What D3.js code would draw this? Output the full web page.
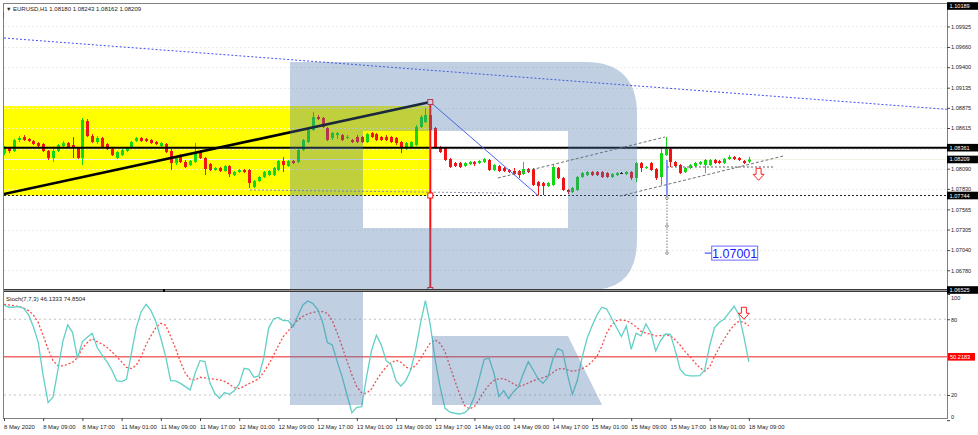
<!DOCTYPE html>
<html><head><meta charset="utf-8">
<script src="https://cdn.jsdelivr.net/npm/d3@7"></script>
<style>
html,body{margin:0;padding:0;background:#fff;}
svg{display:block;font-family:"Liberation Sans",Arial,sans-serif;}
</style></head><body>
<svg id="c" width="978" height="435"></svg>
<script>
// ---------------- DATA ----------------
const symbolTitle = "EURUSD,H1  1.08180 1.08243 1.08162 1.08209";
const stochTitle = "Stoch(7,7,3) 46.1333 74.8504";

const openP = [1.08292,1.08357,1.08318,1.08460,1.08499,1.08473,1.08447,1.08421,1.08408,1.08318,1.08228,1.08318,1.08382,1.08421,1.08395,1.08357,1.08228,1.08705,1.08511,1.08434,1.08486,1.08408,1.08344,1.08228,1.08266,1.08318,1.08357,1.08447,1.08486,1.08473,1.08460,1.08434,1.08382,1.08408,1.08318,1.08163,1.08266,1.08176,1.08137,1.08176,1.08305,1.08228,1.08150,1.08073,1.08099,1.08060,1.08124,1.08008,1.08047,1.08073,1.08073,1.07854,1.07931,1.07983,1.08008,1.08008,1.08073,1.08189,1.08124,1.08189,1.08176,1.08331,1.08434,1.08589,1.08757,1.08744,1.08615,1.08486,1.08524,1.08524,1.08486,1.08460,1.08499,1.08499,1.08434,1.08550,1.08537,1.08499,1.08499,1.08499,1.08486,1.08434,1.08357,1.08370,1.08395,1.08628,1.08692,1.08782,1.08615,1.08370,1.08357,1.08215,1.08163,1.08163,1.08124,1.08150,1.08176,1.08163,1.08176,1.08202,1.08073,1.08124,1.08099,1.08073,1.08060,1.08060,1.08021,1.08086,1.08086,1.07918,1.07905,1.07866,1.07879,1.08099,1.07970,1.07815,1.07789,1.07815,1.07983,1.08008,1.08047,1.08047,1.08047,1.08034,1.07983,1.08008,1.08034,1.08021,1.08047,1.07970,1.08163,1.08099,1.08163,1.08086,1.07983,1.08266,1.08344,1.08176,1.08137,1.08047,1.08099,1.08124,1.08150,1.08137,1.08137,1.08202,1.08189,1.08163,1.08215,1.08241,1.08228,1.08189,1.08180];
const highP = [1.08382,1.08370,1.08473,1.08511,1.08524,1.08486,1.08460,1.08434,1.08421,1.08331,1.08344,1.08408,1.08447,1.08434,1.08499,1.08370,1.08744,1.08731,1.08537,1.08511,1.08499,1.08421,1.08357,1.08318,1.08344,1.08370,1.08447,1.08499,1.08499,1.08486,1.08473,1.08447,1.08434,1.08421,1.08344,1.08253,1.08279,1.08202,1.08202,1.08421,1.08331,1.08241,1.08163,1.08112,1.08112,1.08137,1.08137,1.08060,1.08086,1.08086,1.08086,1.07944,1.07995,1.08060,1.08073,1.08112,1.08202,1.08241,1.08202,1.08202,1.08344,1.08473,1.08602,1.08821,1.08782,1.08757,1.08628,1.08563,1.08563,1.08537,1.08524,1.08473,1.08524,1.08511,1.08550,1.08563,1.08550,1.08511,1.08524,1.08511,1.08499,1.08447,1.08434,1.08447,1.08653,1.08782,1.08873,1.08950,1.08628,1.08382,1.08370,1.08228,1.08176,1.08176,1.08176,1.08189,1.08189,1.08202,1.08228,1.08215,1.08150,1.08137,1.08112,1.08086,1.08099,1.08073,1.08176,1.08099,1.08099,1.07931,1.07918,1.07918,1.08137,1.08112,1.07983,1.07828,1.07854,1.07995,1.08047,1.08060,1.08060,1.08060,1.08060,1.08047,1.08034,1.08047,1.08047,1.08060,1.08060,1.08176,1.08176,1.08124,1.08176,1.08099,1.08370,1.08499,1.08357,1.08189,1.08150,1.08112,1.08150,1.08176,1.08189,1.08215,1.08215,1.08215,1.08202,1.08228,1.08266,1.08253,1.08241,1.08202,1.08243];
const lowP = [1.08266,1.08292,1.08305,1.08434,1.08447,1.08434,1.08395,1.08370,1.08305,1.08202,1.08176,1.08305,1.08370,1.08357,1.08228,1.08215,1.08137,1.08499,1.08421,1.08408,1.08357,1.08331,1.08253,1.08215,1.08253,1.08305,1.08344,1.08434,1.08434,1.08434,1.08408,1.08395,1.08370,1.08292,1.08073,1.08137,1.08163,1.08099,1.08124,1.08163,1.08215,1.08008,1.08060,1.08060,1.08047,1.08047,1.07983,1.07995,1.08034,1.08034,1.07841,1.07841,1.07918,1.07970,1.07995,1.07995,1.08060,1.08047,1.08112,1.08150,1.08163,1.08318,1.08421,1.08576,1.08718,1.08615,1.08447,1.08460,1.08473,1.08447,1.08473,1.08421,1.08421,1.08421,1.08421,1.08486,1.08447,1.08447,1.08447,1.08421,1.08395,1.08292,1.08331,1.08357,1.08382,1.08615,1.08679,1.08576,1.08344,1.08292,1.08189,1.08099,1.08112,1.08099,1.08112,1.08137,1.08124,1.08150,1.08163,1.08060,1.08060,1.08047,1.08047,1.08034,1.08008,1.07970,1.08008,1.08034,1.07866,1.07744,1.07750,1.07854,1.07866,1.07957,1.07802,1.07763,1.07776,1.07802,1.07970,1.07995,1.07995,1.07995,1.07970,1.07970,1.07970,1.07995,1.08021,1.08008,1.07944,1.07918,1.08047,1.08086,1.08060,1.07944,1.07879,1.08253,1.08112,1.08112,1.08021,1.08034,1.08086,1.08112,1.08137,1.08034,1.08124,1.08150,1.08150,1.08150,1.08202,1.08202,1.08189,1.08150,1.08162];
const closeP = [1.08357,1.08318,1.08460,1.08486,1.08460,1.08447,1.08408,1.08382,1.08318,1.08228,1.08318,1.08395,1.08421,1.08370,1.08357,1.08228,1.08718,1.08511,1.08434,1.08486,1.08370,1.08344,1.08266,1.08305,1.08331,1.08357,1.08434,1.08486,1.08447,1.08447,1.08421,1.08408,1.08421,1.08305,1.08163,1.08228,1.08176,1.08112,1.08189,1.08305,1.08228,1.08086,1.08073,1.08099,1.08060,1.08124,1.08021,1.08047,1.08073,1.08047,1.07905,1.07931,1.07983,1.08047,1.08060,1.08099,1.08189,1.08137,1.08189,1.08163,1.08331,1.08460,1.08589,1.08757,1.08731,1.08628,1.08460,1.08550,1.08550,1.08460,1.08499,1.08434,1.08434,1.08434,1.08537,1.08499,1.08460,1.08460,1.08460,1.08434,1.08421,1.08357,1.08421,1.08434,1.08628,1.08757,1.08782,1.08589,1.08357,1.08305,1.08202,1.08112,1.08124,1.08112,1.08163,1.08176,1.08150,1.08189,1.08215,1.08073,1.08137,1.08060,1.08060,1.08047,1.08021,1.08008,1.08086,1.08047,1.07879,1.07866,1.07866,1.07905,1.08112,1.07970,1.07815,1.07789,1.07841,1.07983,1.08034,1.08047,1.08008,1.08008,1.07983,1.07983,1.08021,1.08034,1.08034,1.08047,1.07970,1.08163,1.08099,1.08112,1.08073,1.07970,1.08292,1.08344,1.08176,1.08124,1.08034,1.08099,1.08137,1.08163,1.08176,1.08202,1.08202,1.08163,1.08163,1.08215,1.08241,1.08215,1.08202,1.08163,1.08209];

const stochMain = [91.3,89.5,89.7,90,88.7,83.6,74.1,61.5,35.1,13.9,18.2,39.8,62.3,75.5,69.4,49.1,62.3,65.7,68.9,57.8,51.7,46.4,39.8,31.4,30.6,32.4,53,73.6,86,91.8,86.8,78.1,64.9,50.4,31.4,31.1,29.2,26.6,24,37.2,47.2,46.4,29.8,21.3,17.4,21.9,20.5,23.4,28.7,41.1,40.3,34,35.1,49.1,72.8,80.2,81.5,78.9,78.9,74.1,82.9,91.3,94.5,92.6,87.9,78.1,61.5,
59.6,46.4,34.5,20,6,10.2,10.8,34.5,55.1,67.3,59.6,47.2,44,31.4,27.1,31.4,39.8,55.6,76.8,94.7,75.5,47.7,26.6,9.4,6.3,5.5,4.9,6,9.4,18.7,33.2,48.3,49.1,37.2,18.7,23.4,17.1,22.6,26.6,37.2,46.4,39.8,32.7,29.2,34,48.3,56.7,54.9,35.9,20.5,31.4,49.9,64.9,74.7,83.4,89.5,88.1,80.8,73.4,66.2,74.7,56.2,68.9,66.8,76.3,69.5,54.9,
63.1,68.3,68.1,54.9,40.3,35.9,35.1,35.1,35.3,39.8,58.8,73.4,77.6,80.2,85.2,90.3,83.4,66.2,46.1333];
const stochSignal = [91.8,91.3,90.8,90,88.9,86.8,83.4,77.3,67,56.2,47.2,43.2,43,44.3,45.9,49.6,57,61.5,64.6,62.3,60.4,57.8,54.3,50.4,46.2,41.9,40.9,43.5,50.4,59.9,67,73.4,76.8,75.2,66.5,57,46.4,37.2,32.4,31.9,34,33.5,32.9,32.4,31.9,30.8,28.5,25.8,25,26.9,29,30.8,32.9,38,44,51.4,59.1,66.2,70.7,75.2,79.7,82.3,84.2,85.2,86.3,86,84.7,
78.9,69.1,58.3,46.9,35.9,26.6,21.6,21.3,24.8,31.6,37.4,42.2,45.6,47.5,45.9,42.2,40.6,43.2,48.8,55.1,61.2,63.6,60.9,54.3,42.7,31.4,20.5,11.6,8.9,10.8,16.6,22.9,28.2,31.4,32.9,32.9,31.1,28.7,26.9,27.7,29.5,31.1,32.7,33.7,35.1,37.7,40.6,40.9,39.8,38.8,39.3,40.9,43,46.4,50.6,58.6,68.9,75.5,78.9,79.4,78.9,76.8,74.1,70.5,68.9,68.2,66.8,
67,67.5,67,63.6,59.4,54.3,50.4,45.6,41.7,38.8,42.2,50.4,57.8,64.6,70.5,75.5,78.4,77.6,74.8504];

const xTickBars = [0,8,16,24,32,40,48,56,64,72,80,88,96,104,112,120,128,136,144,152];
const xTickLabels = ["8 May 2020","8 May 09:00","8 May 17:00","11 May 01:00","11 May 09:00","11 May 17:00","12 May 01:00","12 May 09:00","12 May 17:00","13 May 01:00","13 May 09:00","13 May 17:00","14 May 01:00","14 May 09:00","14 May 17:00","15 May 01:00","15 May 09:00","15 May 17:00","18 May 01:00","18 May 09:00"];
const priceTicks = [1.09925,1.09660,1.09400,1.09135,1.08875,1.08615,1.08090,1.07830,1.07565,1.07305,1.07040,1.06780];
const gridPrices = [1.09925,1.09660,1.09400,1.09135,1.08875,1.08615,1.08350,1.08090,1.07830,1.07565,1.07305,1.07040,1.06780];
const priceBoxes = [1.10189,1.08361,1.08209,1.07744,1.06525];
const priceRange = [1.06525,1.10189];
const stochTicks = [100,80,20,0];
const stochLevels = [80,20];
const stochLevelLine = 50.2183;

// analysis objects in (bar index, price)
const yellowZone = {bar0:-2, bar1:87, p0:1.07744, p1:1.08898};
const mainTrend = [[0,1.07763],[87,1.08950]];
const dropLine = [[87,1.08950],[109,1.07744]];
const upperDotted = [[0,1.09776],[193,1.08853]];
const channelUpper = [[100.8,1.07970],[134.9,1.08499]];
const channelLower = [[125.7,1.07737],[159,1.08253]];
const shortLevel = [[135.3,1.08112],[157,1.08112]];
const lowGuide = [[50.2,1.07815],[102.2,1.07776]];
const resistanceLevel = 1.08361;
const supportLevel = 1.07744;
const peakBar = 87, peakPrice = 1.08950;
const breakBar = 135.3, breakTop = 1.08202, targetPrice = 1.07001;
const targetLabelBar = 143;
const arrowMain = {bar:154, price:1.08095};
const arrowStoch = {bar:151, value:89.5};

// ---------------- LAYOUT ----------------
const W=978, H=435;
const L=4, R=947, T=4, MB=290, ST=292, SB=418;
const svg = d3.select("#c");
svg.append("rect").attr("width",W).attr("height",H).attr("fill","#fff");

const x = d3.scaleLinear().domain([0,152]).range([4, 4+152*4.9]);
const y = d3.scaleLinear().domain(priceRange).range([MB, 6]);
const s = d3.scaleLinear().domain([0,100]).range([420.2, 294]);

const defs = svg.append("defs");
defs.append("clipPath").attr("id","cm").append("rect").attr("x",L).attr("y",T).attr("width",R-L).attr("height",MB-T);
defs.append("clipPath").attr("id","cs").append("rect").attr("x",L).attr("y",ST).attr("width",R-L).attr("height",SB-ST);

const gm = svg.append("g").attr("clip-path","url(#cm)");

// yellow zone
gm.append("rect")
  .attr("x", x(yellowZone.bar0)).attr("width", x(yellowZone.bar1)-x(yellowZone.bar0))
  .attr("y", y(yellowZone.p1)).attr("height", y(yellowZone.p0)-y(yellowZone.p1))
  .attr("fill","#ffff00");

// grid
gm.selectAll("line.grid").data(gridPrices).join("line")
  .attr("x1",L).attr("x2",R).attr("y1",d=>Math.round(y(d))+0.5).attr("y2",d=>Math.round(y(d))+0.5)
  .attr("stroke","#eeeee4").attr("stroke-dasharray","2,2");
gm.append("line").attr("x1",L).attr("x2",R).attr("y1",Math.round(y(closeP[152]))+0.5).attr("y2",Math.round(y(closeP[152]))+0.5)
  .attr("stroke","#f2f2e2");

// candles
const bars = d3.range(openP.length);
const col = i => closeP[i]>openP[i] ? "#12d812" : (closeP[i]<openP[i] ? "#f01414" : "#000");
gm.selectAll("line.wick").data(bars).join("line")
  .attr("x1",i=>Math.round(x(i))+0.5).attr("x2",i=>Math.round(x(i))+0.5)
  .attr("y1",i=>y(highP[i])).attr("y2",i=>y(lowP[i]))
  .attr("stroke",col).attr("stroke-width",1);
gm.selectAll("rect.body").data(bars).join("rect")
  .attr("x",i=>Math.round(x(i))-1).attr("width",3)
  .attr("y",i=>y(Math.max(openP[i],closeP[i])))
  .attr("height",i=>Math.max(1, y(Math.min(openP[i],closeP[i]))-y(Math.max(openP[i],closeP[i]))))
  .attr("fill",col);

// lines
const seg = (g, pts, stroke, w, dash) => g.append("line")
  .attr("x1",x(pts[0][0])).attr("y1",y(pts[0][1])).attr("x2",x(pts[1][0])).attr("y2",y(pts[1][1]))
  .attr("stroke",stroke).attr("stroke-width",w).attr("stroke-dasharray",dash||null);

seg(gm, upperDotted, "#3f4ff0", 1, "2,2");
seg(gm, lowGuide, "#8a8fb0", 1, "2,2");
gm.append("line").attr("x1",L).attr("x2",R).attr("y1",y(supportLevel)).attr("y2",y(supportLevel))
  .attr("stroke","#222").attr("stroke-dasharray","2,2");
gm.append("line").attr("x1",L).attr("x2",R).attr("y1",y(resistanceLevel)).attr("y2",y(resistanceLevel))
  .attr("stroke","#000").attr("stroke-width",2);
seg(gm, mainTrend, "#000", 2.6);
seg(gm, dropLine, "#4a62ee", 1);
seg(gm, channelUpper, "#707070", 1, "3,2");
seg(gm, channelLower, "#707070", 1, "3,2");
seg(gm, shortLevel, "#606060", 1, "2,2");
// red vertical
gm.append("line").attr("x1",x(peakBar)).attr("x2",x(peakBar)).attr("y1",y(peakPrice)).attr("y2",MB)
  .attr("stroke","#ff1010").attr("stroke-width",2);
[peakPrice, supportLevel, priceRange[0]].forEach(p=>{
  gm.append("rect").attr("x",x(peakBar)-2.5).attr("y",y(p)-2.5).attr("width",5).attr("height",5)
    .attr("fill","#fff").attr("stroke","#ff1010").attr("stroke-width",1);
});
// break vertical + target
gm.append("line").attr("x1",x(breakBar)).attr("x2",x(breakBar)).attr("y1",y(breakTop)).attr("y2",y(supportLevel))
  .attr("stroke","#3b4cf0").attr("stroke-width",1.2);
gm.append("line").attr("x1",x(breakBar)).attr("x2",x(breakBar)).attr("y1",y(supportLevel)).attr("y2",y(targetPrice))
  .attr("stroke","#777").attr("stroke-dasharray","1.5,1.5");
[supportLevel-0.00035, 1.07350, targetPrice].forEach(p=>{
  gm.append("circle").attr("cx",x(breakBar)).attr("cy",y(p)).attr("r",1.3).attr("fill","#fff").attr("stroke","#777").attr("stroke-width",0.8);
});
// target label
const tx = x(targetLabelBar), ty = y(targetPrice);
gm.append("line").attr("x1",tx).attr("x2",tx+7).attr("y1",ty).attr("y2",ty).attr("stroke","#2a2aff");
gm.append("rect").attr("x",tx+7).attr("y",ty-7).attr("width",46).attr("height",14)
  .attr("fill","#fff").attr("stroke","#6a6aff").attr("stroke-width",1);
gm.append("text").attr("x",tx+30).attr("y",ty+4.5).attr("text-anchor","middle")
  .attr("font-size","12.5px").attr("fill","#1a1aff").text(targetPrice.toFixed(5));

// arrow
const arrowPath = "M-2.5,0 H2.5 V6 H5.5 L0,12 L-5.5,6 H-2.5 Z";
gm.append("path").attr("d",arrowPath).attr("transform",`translate(${x(arrowMain.bar)},${y(arrowMain.price)})`)
  .attr("fill","#fff").attr("stroke","#ff2020").attr("stroke-width",1);

// ---------------- STOCH ----------------
const gs = svg.append("g").attr("clip-path","url(#cs)");
gs.selectAll("line.lvl").data(stochLevels).join("line")
  .attr("x1",L).attr("x2",R).attr("y1",d=>s(d)).attr("y2",d=>s(d))
  .attr("stroke","#c4c4c4").attr("stroke-dasharray","2,3");
gs.append("line").attr("x1",L).attr("x2",R).attr("y1",s(stochLevelLine)).attr("y2",s(stochLevelLine))
  .attr("stroke","#f06a6a").attr("stroke-width",1.6);
const lineGen = arr => d3.line().x((d,i)=>x(i)).y(d=>s(d))(arr);
gs.append("path").attr("d",lineGen(stochSignal)).attr("fill","none")
  .attr("stroke","#ff4a4a").attr("stroke-width",1.3).attr("stroke-dasharray","2,2");
gs.append("path").attr("d",lineGen(stochMain)).attr("fill","none")
  .attr("stroke","#62d0c6").attr("stroke-width",1.3);
gs.append("path").attr("d",arrowPath).attr("transform",`translate(${x(arrowStoch.bar)},${s(arrowStoch.value)})`)
  .attr("fill","#fff").attr("stroke","#ff2020").attr("stroke-width",1);

// ---------------- LOGO WATERMARK ----------------
const logo = "M290,62 H585 Q637,62 637,114 V240 Q637,290 590,290 H363 V405 H290 Z " +
             "M363,131 H568 V228 H363 Z";
svg.append("path").attr("d",logo).attr("fill","rgb(74,117,171)").attr("fill-opacity",0.35).attr("fill-rule","evenodd");
svg.append("path").attr("d","M432,336 H568 L602,405 H432 Z").attr("fill","rgb(74,117,171)").attr("fill-opacity",0.35);

// ---------------- FRAME ----------------
const fr = svg.append("g").attr("stroke","#808080").attr("stroke-width",1);
fr.append("line").attr("x1",3).attr("x2",948).attr("y1",3.5).attr("y2",3.5);
fr.append("line").attr("x1",3.5).attr("x2",3.5).attr("y1",3).attr("y2",419);
fr.append("line").attr("x1",947.5).attr("x2",947.5).attr("y1",3).attr("y2",419);
fr.append("line").attr("x1",3).attr("x2",948).attr("y1",418.5).attr("y2",418.5);
svg.append("rect").attr("x",4).attr("y",289).attr("width",943).attr("height",3).attr("fill","#3a3a3a");
svg.append("line").attr("x1",4).attr("x2",947).attr("y1",290.5).attr("y2",290.5).attr("stroke","#9a9a9a");
svg.append("line").attr("x1",3.5).attr("x2",3.5).attr("y1",12).attr("y2",18).attr("stroke","#e03030");
svg.append("rect").attr("x",163).attr("y",289).attr("width",2).attr("height",3).attr("fill","#000");

// ---------------- AXES ----------------
const ya = svg.append("g").attr("transform",`translate(${R},0)`)
  .call(d3.axisRight(y).tickValues(priceTicks).tickSize(3).tickPadding(1).tickFormat(d=>d.toFixed(5)));
ya.select(".domain").remove();
ya.selectAll("line").attr("stroke","#444");
ya.selectAll("text").attr("font-size","5.6px").attr("fill","#222").attr("font-family","Liberation Sans, Arial, sans-serif");

const bx = svg.append("g");
priceBoxes.forEach(p=>{
  const yy = y(p);
  bx.append("rect").attr("x",R).attr("y",yy-3.8).attr("width",31).attr("height",7.6).attr("fill","#000");
  bx.append("text").attr("x",R+2.5).attr("y",yy+2).attr("font-size","5.6px").attr("fill","#fff").text(p.toFixed(5));
});

const sa = svg.append("g").attr("transform",`translate(${R},0)`)
  .call(d3.axisRight(s).tickValues(stochTicks).tickSize(3).tickPadding(1));
sa.select(".domain").remove();
sa.selectAll("line").attr("stroke","#444");
sa.selectAll("text").attr("font-size","5.6px").attr("fill","#222").attr("font-family","Liberation Sans, Arial, sans-serif")
  .attr("y", d => d===100 ? 4 : (d===0 ? -3 : 0));
svg.append("rect").attr("x",R+1).attr("y",s(stochLevelLine)-3.8).attr("width",27).attr("height",7.6).attr("fill","#ff0000");
svg.append("text").attr("x",R+3).attr("y",s(stochLevelLine)+2).attr("font-size","5.6px").attr("fill","#fff").text(stochLevelLine.toFixed(4));

const xa = svg.append("g").attr("transform",`translate(0,${SB})`)
  .call(d3.axisBottom(x).tickValues(xTickBars).tickSize(3).tickPadding(4).tickFormat((d,i)=>xTickLabels[i]));
xa.select(".domain").remove();
xa.selectAll("line").attr("stroke","#444");
xa.selectAll("text").attr("text-anchor","start").attr("dx","-0.5").attr("font-size","5.9px").attr("fill","#222")
  .attr("font-family","Liberation Sans, Arial, sans-serif");

// titles
svg.append("text").attr("x",6).attr("y",11).attr("font-size","5.5px").attr("fill","#222").text("\u25BC");
svg.append("text").attr("x",13).attr("y",11).attr("font-size","6px").attr("fill","#222").text(symbolTitle);
svg.append("text").attr("x",6).attr("y",301).attr("font-size","6px").attr("fill","#222").text(stochTitle);
</script>
</body></html>
